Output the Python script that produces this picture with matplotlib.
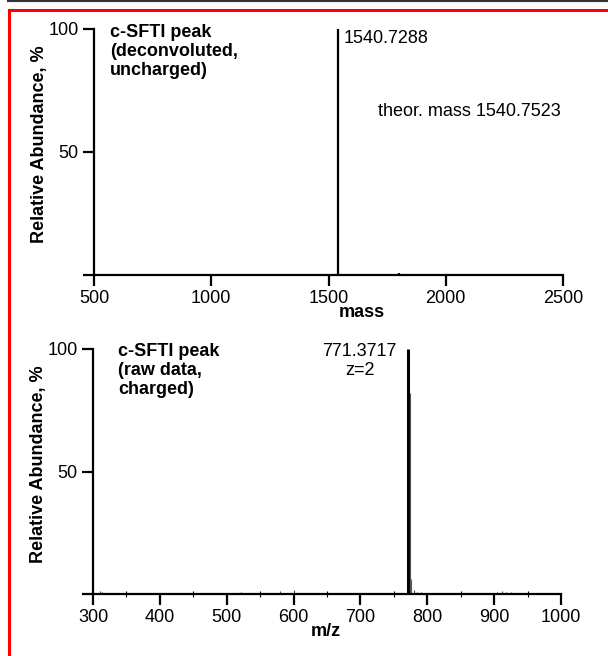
import matplotlib
matplotlib.use('Agg')
import matplotlib.pyplot as plt
from matplotlib.lines import Line2D
from matplotlib.ticker import MultipleLocator

plt.rcParams['font.family'] = ['Liberation Sans', 'DejaVu Sans']

# --- DATA ---
# deconvoluted (uncharged) spectrum
mass_peaks = [1540.7288, 1720, 1800]
mass_heights = [100, 0.4, 0.8]

# raw (charged) spectrum
mz_peaks = [771.3717, 774.4, 775.2, 310, 313, 372, 521, 533, 580, 600, 612,
            648, 663, 680, 780, 784, 790, 905, 912, 918, 925]
mz_heights = [100, 82, 6, 1.2, 1.0, 0.6, 0.8, 0.6, 1.2, 1.5, 0.6,
              0.5, 0.5, 0.6, 1.5, 1.0, 0.8, 1.0, 1.2, 1.0, 0.8]

FS = 13


def style_axes(ax, xlim, xticks):
    ax.set_xlim(*xlim)
    ax.set_ylim(0, 100)
    ax.spines['top'].set_visible(False)
    ax.spines['right'].set_visible(False)
    for s in ('left', 'bottom'):
        ax.spines[s].set_linewidth(1.6)
    ax.set_xticks(xticks)
    ax.set_yticks([0, 50, 100])
    ax.set_yticklabels(['', '50', '100'])
    ax.tick_params(axis='both', which='major', direction='out', length=8,
                   width=1.6, labelsize=FS, pad=3)
    ax.set_ylabel('Relative Abundance, %', fontsize=FS, fontweight='bold')
    ax.yaxis.set_label_coords(-0.099, 0.53)


fig = plt.figure(figsize=(6.08, 6.56), dpi=100)

# top panel
ax1 = fig.add_axes([0.1546, 0.581, 0.7714, 0.375])
ax1.vlines(mass_peaks, 0, mass_heights, color='black', linewidth=1.6)
style_axes(ax1, (500, 2500), [500, 1000, 1500, 2000, 2500])
ax1.set_xlabel('mass', fontsize=FS, fontweight='bold', labelpad=-2)
ax1.xaxis.set_label_coords(0.571, -0.12)
ax1.text(568, 102, 'c-SFTI peak\n(deconvoluted,\nuncharged)', fontsize=FS,
         fontweight='bold', ha='left', va='top', linespacing=1.15)
ax1.text(1566, 96.0, '1540.7288', fontsize=FS, ha='left', va='center')
ax1.text(1711, 66.3, 'theor. mass 1540.7523', fontsize=FS, ha='left', va='center')

# bottom panel
ax2 = fig.add_axes([0.153, 0.0945, 0.7697, 0.3735])
ax2.vlines(mz_peaks[:1], 0, mz_heights[:1], color='black', linewidth=2.2)
ax2.vlines(mz_peaks[1:3], 0, mz_heights[1:3], color='#555555', linewidth=0.8)
ax2.vlines(mz_peaks[3:], 0, mz_heights[3:], color='#444444', linewidth=0.8)
style_axes(ax2, (300, 1000), [300, 400, 500, 600, 700, 800, 900, 1000])
ax2.xaxis.set_minor_locator(MultipleLocator(50))
ax2.tick_params(axis='x', which='minor', direction='inout', length=4, width=0.8)
ax2.set_xlabel('m/z', fontsize=FS, fontweight='bold', labelpad=-2)
ax2.xaxis.set_label_coords(0.498, -0.12)
ax2.text(337, 102.5, 'c-SFTI peak\n(raw data,\ncharged)', fontsize=FS,
         fontweight='bold', ha='left', va='top', linespacing=1.15)
ax2.text(699, 102.5, '771.3717\nz=2', fontsize=FS, ha='center', va='top',
         multialignment='center', linespacing=1.15)

# frame of the cropped figure
fig.add_artist(Line2D([0.013, 1], [0.9985, 0.9985], color='#333333', linewidth=1.5))
fig.add_artist(Line2D([0.0145, 1], [0.984, 0.984], color='red', linewidth=2.2))
fig.add_artist(Line2D([0.0145, 0.0145], [0, 0.984], color='red', linewidth=2.2))

fig.savefig('out.png', dpi=100)
